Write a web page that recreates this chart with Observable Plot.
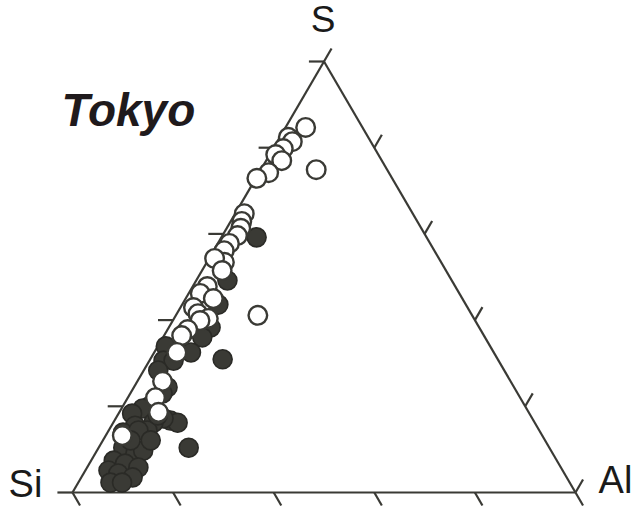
<!DOCTYPE html>
<html>
<head>
<meta charset="utf-8">
<script src="https://cdn.jsdelivr.net/npm/d3@7"></script>
<script src="https://cdn.jsdelivr.net/npm/@observablehq/plot@0.6"></script>
<style>
  html, body { margin: 0; padding: 0; background: #fff; }
  #chart { width: 634px; height: 507px; }
</style>
</head>
<body>
<div id="chart"></div>
<script>
// Ternary composition in percent: [Si, Al, S]
const openPoints = [
  [11.3, 4.0, 84.7], [15.9, 1.7, 82.4], [15.6, 3.0, 81.4], [18.2, 2.0, 79.8],
  [20.4, 1.2, 78.4], [19.9, 3.1, 77.0], [23.9, 1.9, 74.2], [26.9, 0.2, 72.9],
  [14.1, 11.0, 74.9], [33.5, 1.8, 64.7], [34.9, 2.2, 62.9], [35.9, 2.8, 61.3],
  [37.4, 3.0, 59.6], [39.9, 2.3, 57.8], [41.8, 2.1, 56.1], [43.1, 3.5, 53.4],
  [44.6, 1.1, 54.3], [44.5, 4.0, 51.5], [49.3, 2.9, 47.8], [51.5, 2.3, 46.2],
  [49.5, 5.5, 45.0], [54.5, 2.6, 42.9], [54.3, 4.2, 41.5], [52.8, 6.8, 40.4],
  [54.7, 5.4, 39.9], [58.2, 4.0, 37.8], [60.1, 3.5, 36.4], [63.0, 4.5, 32.5],
  [42.6, 16.3, 41.1], [69.2, 5.0, 25.8], [72.5, 5.5, 22.0], [73.6, 7.8, 18.6],
  [83.5, 3.3, 13.2]
];
const filledPoints = [
  [33.8, 7.0, 59.2], [44.6, 6.2, 49.2], [49.2, 7.2, 43.6], [53.4, 8.3, 38.3],
  [56.2, 7.8, 36.0], [60.2, 7.3, 32.5], [64.5, 1.6, 33.9], [66.6, 2.8, 30.6],
  [54.7, 14.4, 30.9], [64.6, 4.8, 30.6], [68.9, 6.7, 24.4], [70.6, 6.4, 23.0],
  [68.8, 2.9, 28.3], [74.4, 5.4, 20.2], [76.3, 4.2, 19.5], [79.0, 2.7, 18.3],
  [72.2, 11.1, 16.7], [71.0, 12.8, 16.2], [73.3, 9.5, 17.2], [75.8, 8.0, 16.2],
  [79.8, 4.7, 15.5], [77.9, 7.7, 14.4], [83.0, 3.1, 13.9], [71.7, 17.9, 10.4],
  [79.7, 5.9, 14.4], [84.7, 4.9, 10.4], [83.0, 8.0, 9.0], [81.1, 9.2, 9.7],
  [88.1, 4.5, 7.4], [86.2, 7.1, 6.7], [84.0, 10.2, 5.8], [90.3, 4.6, 5.1],
  [88.7, 6.9, 4.4], [86.3, 10.2, 3.5], [91.3, 6.4, 2.3], [89.0, 8.7, 2.3],
  [78.4, 9.5, 12.1], [74.1, 8.0, 17.9], [82.4, 5.5, 12.1]
];
const vertexLabels = ["Si", "Al", "S"];
const tickValues = [0, 0.2, 0.4, 0.6, 0.8, 1];
const titleText = "Tokyo";

// ternary -> cartesian (x along base, y = S fraction)
const toXY = ([si, al, s]) => {
  const t = si + al + s;
  const A = al / t, S = s / t;
  return {x: A + S / 2, y: S};
};
const proj = (A, S) => ({x: A + S / 2, y: S});

const openXY = openPoints.map(toXY);
const filledXY = filledPoints.map(toXY);

// triangle edges
const V = {Si: proj(0, 0), Al: proj(1, 0), S: proj(0, 1)};
const edges = [
  {a: V.Si, b: V.Al}, {a: V.Al, b: V.S}, {a: V.S, b: V.Si}
];

// ticks
const tl = 0.03;
const ticks = [];
for (const v of tickValues) {
  ticks.push({a: proj(v, 0), b: proj(v + tl, -tl)});      // base: down-right
  ticks.push({a: proj(0, v), b: proj(-tl, v)});           // left: horizontal left
  ticks.push({a: proj(1 - v, v), b: proj(1 - v, v + tl)}); // right: up-right
}

const ink = "#3a3a35";
const font = "Liberation Sans, Arial, Helvetica, sans-serif";

const chart = Plot.plot({
  width: 634,
  height: 507,
  marginLeft: 72,
  marginRight: 59,
  marginTop: 61,
  marginBottom: 15,
  x: {domain: [0, 1], axis: null},
  y: {domain: [0, 1], axis: null},
  style: {fontFamily: font, background: "#fff", overflow: "visible"},
  marks: [
    Plot.link(edges, {x1: d => d.a.x, y1: d => d.a.y, x2: d => d.b.x, y2: d => d.b.y,
      stroke: ink, strokeWidth: 2.2}),
    Plot.link(ticks, {x1: d => d.a.x, y1: d => d.a.y, x2: d => d.b.x, y2: d => d.b.y,
      stroke: ink, strokeWidth: 2.2}),
    Plot.dot(filledXY, {x: "x", y: "y", r: 9.5, fill: ink, stroke: "#2a2a26", strokeWidth: 1.6}),
    Plot.dot(openXY, {x: "x", y: "y", r: 9.3, fill: "#fff", stroke: ink, strokeWidth: 2.4}),
    Plot.text([{...V.Si, label: vertexLabels[0]}], {x: "x", y: "y", text: "label",
      dx: -47, dy: -8, fontSize: 38, fill: "#1a1a1a", textAnchor: "middle"}),
    Plot.text([{...V.Al, label: vertexLabels[1]}], {x: "x", y: "y", text: "label",
      dx: 40, dy: -12, fontSize: 38, fill: "#1a1a1a", textAnchor: "middle"}),
    Plot.text([{...V.S, label: vertexLabels[2]}], {x: "x", y: "y", text: "label",
      dx: -1, dy: -41, fontSize: 37, fill: "#1a1a1a", textAnchor: "middle"}),
    Plot.text([titleText], {frameAnchor: "top-left", text: d => d, dx: -11, dy: 32,
      fontSize: 46, fontWeight: "bold", fontStyle: "italic", fill: "#1f1a1c", textAnchor: "start"})
  ]
});
document.getElementById("chart").appendChild(chart);
</script>
</body>
</html>
